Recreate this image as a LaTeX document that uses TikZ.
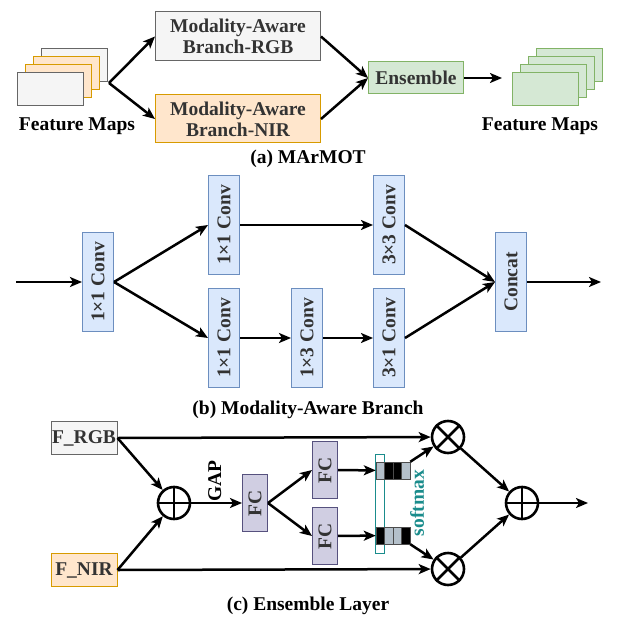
\documentclass[tikz,border=0pt]{standalone}
\usepackage{fontspec}
\setmainfont{Liberation Serif}
\usepackage{graphicx}
\usetikzlibrary{arrows.meta, positioning, calc}
\definecolor{greyd}{HTML}{666666}
\definecolor{greyf}{HTML}{F5F5F5}
\definecolor{orgd}{HTML}{D79B00}
\definecolor{orgf}{HTML}{FFE6CC}
\definecolor{grnd}{HTML}{82B366}
\definecolor{grnf}{HTML}{D5E8D4}
\definecolor{blud}{HTML}{6C8EBF}
\definecolor{bluf}{HTML}{DAE8FC}
\definecolor{purd}{HTML}{56517E}
\definecolor{purf}{HTML}{D0CEE2}
\definecolor{tealc}{HTML}{1A8C8C}
\definecolor{cellc}{HTML}{B4C0CA}
\definecolor{txtc}{HTML}{333333}
\tikzset{
  every picture/.style={line width=2.5pt},
  lbl/.style={font=\fontsize{19.5}{21}\selectfont\bfseries},
  box/.style={draw=#1d, fill=#1f, line width=1pt, align=center, inner sep=0pt, lbl, text=txtc},
  fmap/.style={box=#1, minimum width=66pt, minimum height=33pt},
  conv/.style={box=blu, minimum width=31pt, minimum height=99pt},
  fcbox/.style={box=pur, minimum width=25pt, minimum height=57pt},
  op/.style={circle, draw, line width=2.6pt, minimum size=32pt, inner sep=0pt},
  arrow/.style={-{Stealth[length=12pt, width=10pt, inset=3pt]}, line width=2.5pt},
  capt/.style={lbl, anchor=base},
  cell/.style={draw=black!70, line width=0.5pt},
}
\newcommand{\vtxt}[1]{\rotatebox{90}{#1}}

\begin{document}
\begin{tikzpicture}[x=1pt, y=-1pt]
  \useasboundingbox (0,0) rectangle (619,628);
  % (a) MArMOT
  \foreach \i/\c in {0/grey,1/org,2/org,3/grey}
    \node[fmap=\c] (fl\i) at (74-8*\i, 65.5+8*\i) {};
  \foreach \i in {0,...,3}
    \node[fmap=grn] (fr\i) at (569.5-8*\i, 65.5+8*\i) {};
  \node[capt] (fml) at (77,131) {Feature Maps};
  \node[capt] (fmr) at (540,131) {Feature Maps};
  \node[box=grey, minimum width=165pt, minimum height=49pt] (rgb) at (238,36.5) {Modality-Aware\\Branch-RGB};
  \node[box=org, minimum width=165pt, minimum height=48pt] (nir) at (238,119) {Modality-Aware\\Branch-NIR};
  \node[box=grn, minimum width=95pt, minimum height=32pt] (ens) at (416,78) {Ensemble};
  \coordinate (fork) at (109,83);
  \coordinate (eout) at (502,78);
  \draw[arrow] (fork) -- (rgb.west);
  \draw[arrow] (fork) -- (nir.west);
  \draw[arrow] (rgb.east) -- (ens.west);
  \draw[arrow] (nir.east) -- (ens.west);
  \draw[arrow] (ens) -- (eout);
  \node[capt] (capa) at (308,164) {(a) MArMOT};

  % (b) modality-aware branch
  \coordinate (bin) at (16,282);
  \coordinate (bout) at (601,282);
  \node[conv] (c0) at (98,282) {\vtxt{1×1 Conv}};
  \node[conv] (c1) at (224,225) {\vtxt{1×1 Conv}};
  \node[conv] (c2) at (389,225) {\vtxt{3×3 Conv}};
  \node[conv] (c3) at (224,338) {\vtxt{1×1 Conv}};
  \node[conv] (c4) at (307,338) {\vtxt{1×3 Conv}};
  \node[conv] (c5) at (389,338) {\vtxt{3×1 Conv}};
  \node[conv] (cat) at (511,282) {\vtxt{Concat}};
  \draw[arrow] (bin) -- (c0);
  \draw[arrow] (c0.east) -- (c1.west);
  \draw[arrow] (c0.east) -- (c3.west);
  \draw[arrow] (c1) -- (c2);
  \draw[arrow] (c3) -- (c4);
  \draw[arrow] (c4) -- (c5);
  \draw[arrow] (c2.east) -- (cat.west);
  \draw[arrow] (c5.east) -- (cat.west);
  \draw[arrow] (cat) -- (bout);
  \node[capt] (capb) at (308,414) {(b) Modality-Aware Branch};

  % (c) ensemble layer
  \node[fmap=grey] (frgb) at (84,438) {F\_RGB};
  \node[fmap=org] (fnir) at (84,570) {F\_NIR};
  \node[op] (p1) at (174,503) {};
  \node[fcbox] (fc0) at (255,503) {\vtxt{FC}};
  \node[fcbox] (fc1) at (325,470) {\vtxt{FC}};
  \node[fcbox] (fc2) at (325,536) {\vtxt{FC}};
  \node[draw=tealc, fill=white, line width=0.9pt, minimum width=9pt, minimum height=99pt, inner sep=0pt] (bar) at (379.5,503.5) {};
  \node[draw=black!70, line width=0.5pt, minimum width=34pt, minimum height=17pt, inner sep=0pt] (vt) at (393,470.5) {};
  \node[draw=black!70, line width=0.5pt, minimum width=34pt, minimum height=17pt, inner sep=0pt] (vb) at (393,535.5) {};
  \foreach \k/\c in {0/cellc,1/black,2/black,3/cellc}
    \draw[cell, fill=\c] ($(vt.south west)+(8.5*\k,0)$) rectangle ++(8.5,-17);
  \foreach \k/\c in {0/black,1/cellc,2/cellc,3/black}
    \draw[cell, fill=\c] ($(vb.south west)+(8.5*\k,0)$) rectangle ++(8.5,-17);
  \node[lbl, rotate=90, text=tealc] (smx) at (417,503) {softmax};
  \node[op] (m1) at (448,437) {};
  \node[op] (m2) at (448,569) {};
  \node[op] (p2) at (522,503) {};
  \foreach \n in {p1,p2}
    \draw (\n.north) -- (\n.south) (\n.west) -- (\n.east);
  \foreach \n in {m1,m2}
    \draw (\n.north west) -- (\n.south east) (\n.north east) -- (\n.south west);
  \coordinate (cout) at (588,503);
  \draw[arrow] (frgb.east) -- (p1);
  \draw[arrow] (fnir.east) -- (p1);
  \draw[arrow] (frgb.east) -- (m1);
  \draw[arrow] (fnir.east) -- (m2);
  \draw[arrow] (p1) -- node[lbl, midway, rotate=90, anchor=west, xshift=-3pt, yshift=2pt] (gap) {GAP} (fc0);
  \draw[arrow] (fc0.east) -- (fc1.west);
  \draw[arrow] (fc0.east) -- (fc2.west);
  \draw[arrow] (fc1) -- (vt);
  \draw[arrow] (fc2) -- (vb);
  \draw[arrow] (vt.north east) -- (m1);
  \draw[arrow] (vb.south east) -- (m2);
  \draw[arrow] (m1) -- (p2);
  \draw[arrow] (m2) -- (p2);
  \draw[arrow] (p2) -- (cout);
  \node[capt] (capc) at (308,610) {(c) Ensemble Layer};
\end{tikzpicture}
\end{document}
